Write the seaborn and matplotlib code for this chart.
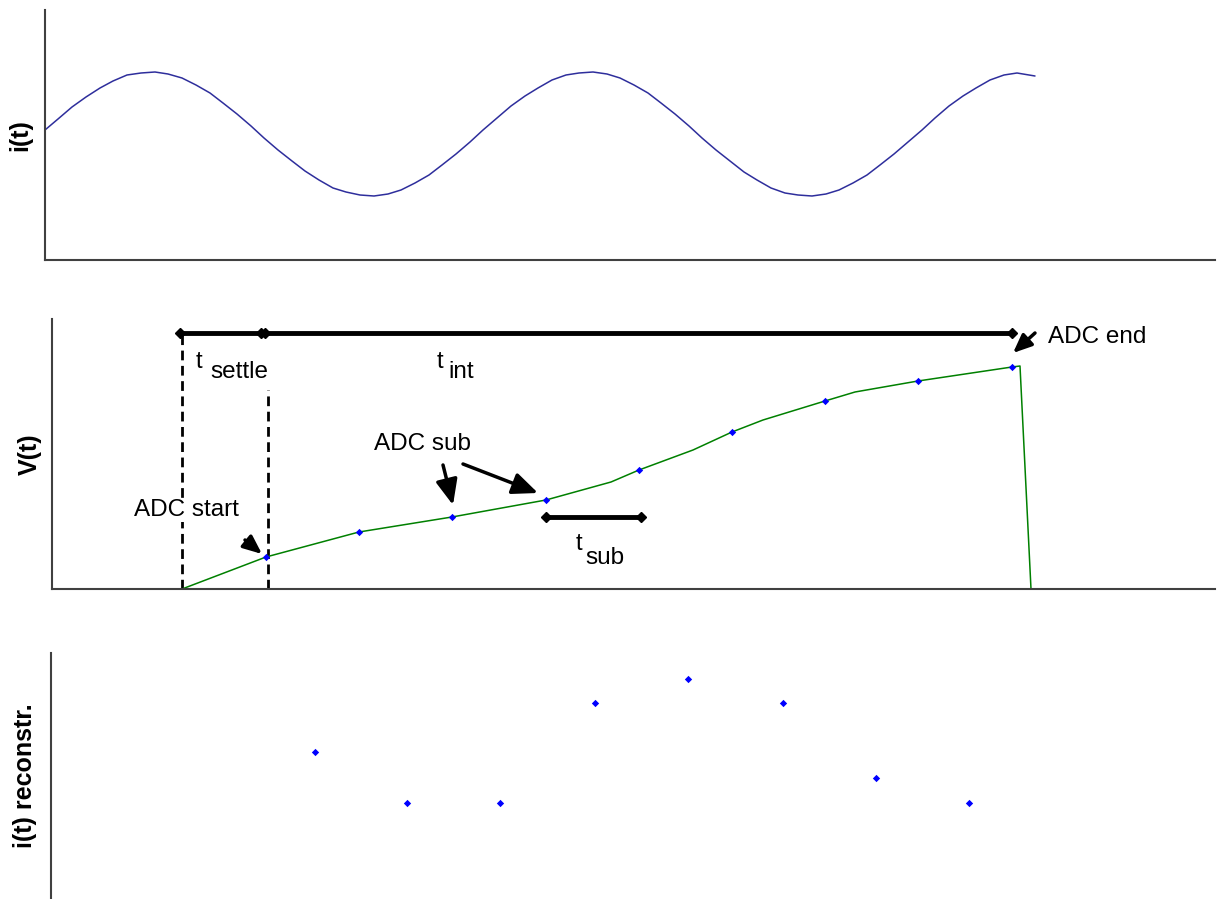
import matplotlib
matplotlib.use("Agg")
from matplotlib import pyplot as plt
import seaborn as sns
import pandas as pd

# time axis shared by all panels (arbitrary units)
sine_t = [45, 58, 72, 86, 100, 113, 127, 141, 155, 168, 182, 196, 210, 223, 237, 251, 264, 278, 292,
          305, 319, 333, 346, 360, 374, 388, 401, 415, 429, 442, 456, 470, 483, 497, 511, 525, 538,
          552, 566, 579, 593, 607, 620, 634, 648, 661, 675, 689, 702, 716, 730, 744, 757, 771, 785,
          798, 812, 826, 839, 853, 867, 880, 894, 908, 922, 935, 949, 963, 976, 990, 1004, 1017, 1035]
sine_i = [130, 141, 153, 163, 172, 179, 185, 187, 188, 186, 182, 175, 167, 157, 146, 134, 122, 110, 99,
          89, 80, 72, 68, 65, 64, 66, 70, 77, 85, 95, 106, 118, 130, 142, 154, 164, 172,
          180, 185, 187, 188, 186, 182, 175, 167, 157, 146, 134, 122, 110, 99, 88, 80, 72, 67,
          65, 64, 66, 70, 77, 85, 95, 106, 118, 130, 142, 154, 164, 172, 180, 185, 187, 184]

# integrator voltage
v_t = [182, 266, 359, 452, 546, 611, 639, 693, 732, 763, 825, 855, 918, 1012, 1020, 1031]
v_val = [0, 32, 57, 72, 89, 107, 119, 139, 157, 169, 188, 197, 208, 222, 223, 0]

# ADC sub-samples
sample_t = [266, 359, 452, 546, 639, 732, 825, 918, 1012]
sample_v = [32, 57, 72, 89, 119, 157, 188, 208, 222]

# reconstructed current
rec_t = [315, 407, 500, 595, 688, 783, 876, 969]
rec_i = [146, 95, 95, 195, 219, 195, 120, 95]

sine_df = pd.DataFrame({"t": sine_t, "i": sine_i})
v_df = pd.DataFrame({"t": v_t, "V": v_val})
samp_df = pd.DataFrame({"t": sample_t, "V": sample_v})
rec_df = pd.DataFrame({"t": rec_t, "i": rec_i})

sns.set_theme(style="white")
plt.rcParams["font.family"] = ["Liberation Sans", "DejaVu Sans"]

W, H = 1219, 899
fig = plt.figure(figsize=(W / 100, H / 100), dpi=100)


def axes_px(l, t, r, b):
    return fig.add_axes([l / W, 1 - b / H, (r - l) / W, (b - t) / H])


spine_col = "#404040"
lab_kw = dict(fontsize=18, fontweight="bold", color="black")

# ---- top panel: i(t)
ax1 = axes_px(45, 10, 1215, 260)
sns.lineplot(data=sine_df, x="t", y="i", ax=ax1, color="#2e2e9c", lw=1.1, sort=False, estimator=None)
ax1.set_xlim(45, 1215)
ax1.set_ylim(0, 250)

# ---- middle panel: V(t)
ax2 = axes_px(52, 319, 1215, 589)
sns.lineplot(data=v_df, x="t", y="V", ax=ax2, color="#008000", lw=1.1, sort=False, estimator=None)
sns.scatterplot(data=samp_df, x="t", y="V", ax=ax2, color="#0000ff", marker="D", s=14,
                linewidth=0, zorder=5)
ax2.set_xlim(52, 1215)
ax2.set_ylim(0, 270)

bar_y = 256
t_start = v_t[0]
t_first = sample_t[0]
t_last = sample_t[-1]
bar_kw = dict(color="black", lw=3.5, marker="D", markersize=5, solid_capstyle="butt")
ax2.plot([t_start - 2, t_first - 5], [bar_y, bar_y], **bar_kw)
ax2.plot([t_first - 1, t_last], [bar_y, bar_y], **bar_kw)
ax2.plot([sample_t[3], sample_t[4] + 2], [72, 72], **bar_kw)

dash_kw = dict(color="black", lw=2, ls=(0, (3.5, 2)), zorder=1)
ax2.plot([t_start, t_start], [0, bar_y], **dash_kw)
ax2.plot([t_first + 2, t_first + 2], [0, 199], **dash_kw)

txt_kw = dict(fontsize=17.5, color="black", va="center", ha="left")
t_kw = dict(fontsize=17, color="black", va="center", ha="left")
ax2.text(196, 227, "t", **t_kw)
ax2.text(210, 217, "settle", **txt_kw)
ax2.text(437, 227, "t", **t_kw)
ax2.text(448, 217, "int", **txt_kw)
ax2.text(576, 45, "t", **t_kw)
ax2.text(585, 31, "sub", **txt_kw)

arrow_kw = dict(arrowstyle="-|>,head_length=0.7,head_width=0.3", color="black", lw=2.5,
                mutation_scale=22, shrinkA=0, shrinkB=0)
small_arrow = dict(arrow_kw, mutation_scale=16)
ax2.text(134, 79, "ADC start", zorder=3,
         bbox=dict(facecolor="white", edgecolor="none", pad=1), **txt_kw)
ax2.annotate("", xy=(262, 35), xytext=(245, 49), arrowprops=small_arrow)
ax2.text(374, 145, "ADC sub", **txt_kw)
ax2.annotate("", xy=(453, 84), xytext=(443, 124), arrowprops=arrow_kw)
ax2.annotate("", xy=(538, 96), xytext=(463, 125), arrowprops=arrow_kw)
ax2.text(1048, 252, "ADC end", **txt_kw)
ax2.annotate("", xy=(1013, 236), xytext=(1035, 256), arrowprops=small_arrow)

# ---- bottom panel: reconstructed i(t)
ax3 = axes_px(51, 653, 1215, 898)
sns.scatterplot(data=rec_df, x="t", y="i", ax=ax3, color="#0000ff", marker="D", s=14, linewidth=0)
ax3.set_xlim(51, 1215)
ax3.set_ylim(0, 245)

for ax, lab, lx in [(ax1, "i(t)", -0.011), (ax2, "V(t)", -0.009), (ax3, "i(t) reconstr.", -0.012)]:
    ax.set_xticks([])
    ax.set_yticks([])
    ax.set_xlabel("")
    ax.set_ylabel(lab, **lab_kw)
    ax.yaxis.set_label_coords(lx, 0.5)
    for s in ["top", "right"]:
        ax.spines[s].set_visible(False)
    for s in ["left", "bottom"]:
        ax.spines[s].set_color(spine_col)
        ax.spines[s].set_linewidth(1.5)
ax3.spines["bottom"].set_visible(False)

fig.savefig("out.png", dpi=100)
